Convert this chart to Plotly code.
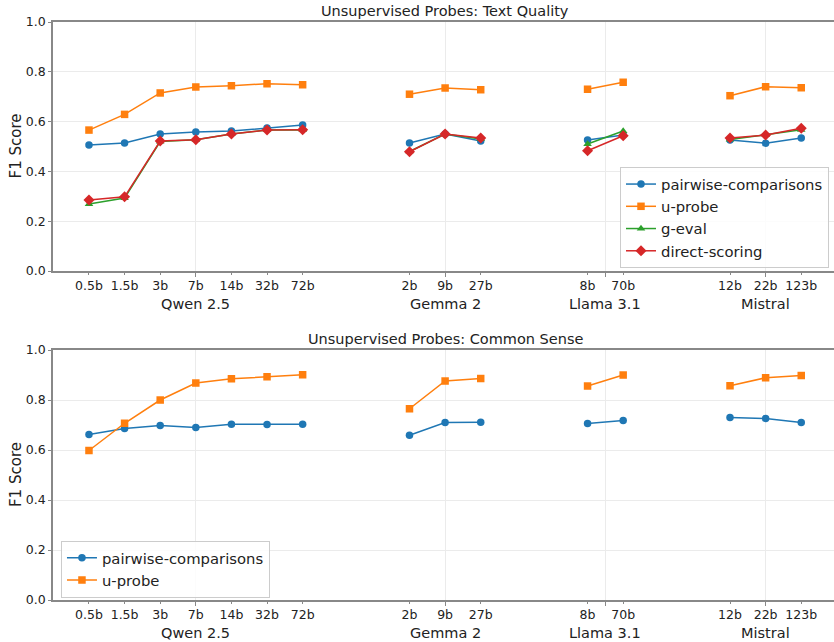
import plotly.graph_objects as go
from plotly.subplots import make_subplots

families = ["Qwen 2.5", "Gemma 2", "Llama 3.1", "Mistral"]
sizes = [
    ["0.5b", "1.5b", "3b", "7b", "14b", "32b", "72b"],
    ["2b", "9b", "27b"],
    ["8b", "70b"],
    ["12b", "22b", "123b"],
]

# Text Quality
tq_pairwise = [0.506, 0.514, 0.550, 0.558, 0.562, 0.574, 0.586,
               0.514, 0.550, 0.522,
               0.526, 0.546,
               0.526, 0.513, 0.534]
tq_uprobe = [0.566, 0.629, 0.715, 0.739, 0.744, 0.752, 0.748,
             0.710, 0.735, 0.728,
             0.730, 0.758,
             0.704, 0.740, 0.736]
tq_geval = [0.269, 0.293, 0.520, 0.527, 0.550, 0.566, 0.566,
            0.480, 0.550, 0.530,
            0.510, 0.562,
            0.528, 0.546, 0.567]
tq_direct = [0.285, 0.298, 0.522, 0.527, 0.550, 0.566, 0.567,
             0.479, 0.550, 0.534,
             0.483, 0.543,
             0.534, 0.546, 0.573]

# Common Sense
cs_pairwise = [0.662, 0.686, 0.698, 0.690, 0.703, 0.702, 0.703,
               0.659, 0.710, 0.711,
               0.706, 0.718,
               0.730, 0.726, 0.710]
cs_uprobe = [0.598, 0.707, 0.800, 0.868, 0.885, 0.893, 0.901,
             0.765, 0.876, 0.886,
             0.856, 0.900,
             0.857, 0.889, 0.898]

yticks = [0.0, 0.2, 0.4, 0.6, 0.8, 1.0]

# x layout: consecutive models, gap between families
GAP = 3
positions, tick_labels, group_idx, centers = [], [], [], []
cur = 0
for gi, fam_sizes in enumerate(sizes):
    start = cur
    for s in fam_sizes:
        positions.append(cur)
        tick_labels.append(s)
        group_idx.append(gi)
        cur += 1
    centers.append((start + cur - 1) / 2)
    cur += GAP - 1

colors = {"pairwise-comparisons": "#1f77b4", "u-probe": "#ff7f0e",
          "g-eval": "#2ca02c", "direct-scoring": "#d62728"}
symbols = {"pairwise-comparisons": "circle", "u-probe": "square",
           "g-eval": "triangle-up", "direct-scoring": "diamond"}
msize = {"pairwise-comparisons": 7.5, "u-probe": 7.5, "g-eval": 7.5, "direct-scoring": 8.5}

fig = make_subplots(rows=2, cols=1, vertical_spacing=0.1365)


def add_series(name, vals, row, legend):
    first = True
    for gi in range(len(sizes)):
        xs = [p for p, g in zip(positions, group_idx) if g == gi]
        ys = [v for v, g in zip(vals, group_idx) if g == gi]
        fig.add_trace(go.Scatter(
            x=xs, y=ys, mode="lines+markers", name=name,
            legendgroup=name + str(row), showlegend=first, legend=legend,
            line=dict(color=colors[name], width=1.5),
            marker=dict(symbol=symbols[name], size=msize[name], color=colors[name]),
        ), row=row, col=1)
        first = False


add_series("pairwise-comparisons", tq_pairwise, 1, "legend")
add_series("u-probe", tq_uprobe, 1, "legend")
add_series("g-eval", tq_geval, 1, "legend")
add_series("direct-scoring", tq_direct, 1, "legend")
add_series("pairwise-comparisons", cs_pairwise, 2, "legend2")
add_series("u-probe", cs_uprobe, 2, "legend2")

font = "DejaVu Sans"
spine = "#888888"
grid = "#ebebeb"

for r, dom in [(1, [0.5692, 1.0]), (2, [0.0, 0.4325])]:
    fig.update_xaxes(
        row=r, col=1, range=[-1.01, 20.92],
        tickmode="array", tickvals=positions, ticktext=tick_labels,
        ticks="outside", ticklen=2.5, tickcolor=spine, tickwidth=1,
        showgrid=False, zeroline=False,
        showline=True, linecolor=spine, linewidth=1.5, mirror=True,
        tickfont=dict(family=font, size=12.5, color="#222"),
        minor=dict(tickmode="array", tickvals=centers, ticks="outside",
                   ticklen=4, tickcolor=spine, showgrid=True,
                   gridcolor=grid, gridwidth=1),
    )
    fig.update_yaxes(
        row=r, col=1, range=[0, 1], domain=dom,
        tickmode="array", tickvals=yticks, ticktext=[f"{v:.1f}" for v in yticks],
        ticks="outside", ticklen=3, tickcolor=spine,
        showgrid=True, gridcolor=grid, gridwidth=1, zeroline=False,
        showline=True, linecolor=spine, linewidth=1.5,
        tickfont=dict(family=font, size=12.5, color="#222"),
    )

annotations = []
titles = ["Unsupervised Probes: Text Quality", "Unsupervised Probes: Common Sense"]
for r, (xr, yr) in enumerate([("x", "y"), ("x2", "y2")]):
    annotations.append(dict(text=titles[r], xref=xr + " domain", yref=yr + " domain",
                            x=0.502, y=1, xanchor="center", yanchor="bottom", yshift=1,
                            showarrow=False, font=dict(family=font, size=14.5, color="#222")))
    annotations.append(dict(text="F1 Score", xref=xr + " domain", yref=yr + " domain",
                            x=0, y=0.5, xshift=-37, textangle=-90, xanchor="center",
                            yanchor="middle", showarrow=False,
                            font=dict(family=font, size=15, color="#222")))
    for fam, c in zip(families, centers):
        annotations.append(dict(text=fam, xref=xr, yref=yr + " domain", x=c, y=0,
                                yshift=-33, xanchor="center", yanchor="middle",
                                showarrow=False, font=dict(family=font, size=14.5, color="#222")))

fig.update_layout(
    width=834, height=642,
    margin=dict(l=53, r=0, t=22, b=42),
    paper_bgcolor="white", plot_bgcolor="white",
    font=dict(family=font, size=13, color="#222"),
    annotations=annotations,
    legend=dict(x=0.9936, y=0.5745, xanchor="right", yanchor="bottom",
                bgcolor="rgba(255,255,255,0.85)", bordercolor="#cccccc", borderwidth=1,
                font=dict(family=font, size=14.8, color="#222"), tracegroupgap=0,
                itemwidth=30),
    legend2=dict(x=0.0102, y=0.004, xanchor="left", yanchor="bottom",
                 bgcolor="rgba(255,255,255,0.85)", bordercolor="#cccccc", borderwidth=1,
                 font=dict(family=font, size=14.8, color="#222"), tracegroupgap=0,
                 itemwidth=30),
    showlegend=True,
)

fig.write_html("out.html", config={"displayModeBar": False},
               post_script="document.body.style.margin='0';document.body.style.overflow='hidden';")
